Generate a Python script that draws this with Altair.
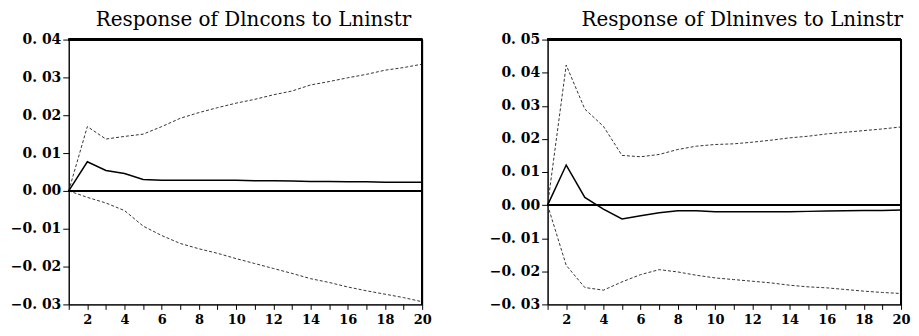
import altair as alt
import pandas as pd

steps = list(range(1, 21))

cons_resp = [0.0, 0.0077, 0.0054, 0.0046, 0.0030, 0.0028, 0.0028, 0.0028, 0.0028, 0.0028,
             0.0027, 0.0027, 0.0026, 0.0025, 0.0025, 0.0024, 0.0024, 0.0023, 0.0023, 0.0023]
cons_upper = [0.0, 0.0170, 0.0137, 0.0144, 0.0150, 0.0170, 0.0192, 0.0207, 0.0220, 0.0232,
              0.0242, 0.0254, 0.0264, 0.0280, 0.0289, 0.0299, 0.0308, 0.0319, 0.0326, 0.0335]
cons_lower = [0.0, -0.0017, -0.0032, -0.0052, -0.0093, -0.0118, -0.0139, -0.0153, -0.0165, -0.0179,
              -0.0192, -0.0205, -0.0218, -0.0232, -0.0242, -0.0254, -0.0264, -0.0273, -0.0282, -0.0293]

inv_resp = [0.0, 0.0121, 0.0023, -0.0012, -0.0042, -0.0032, -0.0023, -0.0017, -0.0017, -0.0020,
            -0.0020, -0.0020, -0.0020, -0.0020, -0.0019, -0.0018, -0.0017, -0.0016, -0.0016, -0.0015]
inv_upper = [0.0, 0.0423, 0.0290, 0.0238, 0.0150, 0.0146, 0.0153, 0.0168, 0.0178, 0.0183,
             0.0185, 0.0190, 0.0196, 0.0203, 0.0208, 0.0215, 0.0220, 0.0225, 0.0230, 0.0236]
inv_lower = [0.0, -0.0182, -0.0249, -0.0257, -0.0232, -0.0210, -0.0195, -0.0202, -0.0212, -0.0220,
             -0.0225, -0.0230, -0.0235, -0.0242, -0.0247, -0.0250, -0.0255, -0.0260, -0.0264, -0.0267]

titles = ["Response of Dlncons to Lninstr", "Response of Dlninves to Lninstr"]

FONT = "DejaVu Serif"
W, H = 355, 266


def panel(resp, upper, lower, title, ymin, ymax, dx):
    df = pd.DataFrame({"step": steps, "resp": resp, "upper": upper, "lower": lower})
    yvals = [round(ymin + 0.01 * i, 2) for i in range(int(round((ymax - ymin) / 0.01)) + 1)]
    xscale = alt.Scale(domain=[1, 20], nice=False, zero=False)
    xaxis = alt.Axis(values=steps, title=None, grid=False,
                     labelExpr="datum.value % 2 == 0 ? datum.value : ''",
                     labelFont=FONT, labelFontSize=13, labelFontWeight="bold",
                     labelColor="black", tickColor="black", domainColor="black",
                     tickSize=5, labelPadding=4, labelFlush=False, labelOverlap=False)
    yscale = alt.Scale(domain=[ymin, ymax], nice=False, zero=False)
    yaxis = alt.Axis(values=yvals, title=None, grid=False,
                     labelExpr="replace(format(datum.value, '.2f'), '.', '. ')",
                     labelFont=FONT, labelFontSize=14, labelFontWeight="bold",
                     labelColor="black", tickColor="black", domainColor="black",
                     tickSize=6, labelPadding=2, minExtent=60, maxExtent=60,
                     labelOverlap=False, labelFlush=False)
    x = alt.X("step:Q", scale=xscale, axis=xaxis)
    base = alt.Chart(df).transform_calculate(
        zero="0", ytop=str(ymax), xend=str(steps[-1]))
    top = base.mark_rule(color="black", strokeWidth=1.5).encode(
        y=alt.Y("ytop:Q", scale=yscale, axis=yaxis))
    rightb = base.mark_rule(color="black", strokeWidth=1.5).encode(
        x=alt.X("xend:Q", scale=xscale, axis=xaxis))
    zero = base.mark_rule(color="black", strokeWidth=1.5).encode(
        y=alt.Y("zero:Q", scale=yscale, axis=yaxis))
    up = base.mark_line(color="#333333", strokeWidth=1, strokeDash=[3, 2]).encode(
        x=x, y=alt.Y("upper:Q", scale=yscale, axis=yaxis))
    lo = base.mark_line(color="#333333", strokeWidth=1, strokeDash=[3, 2]).encode(
        x=x, y=alt.Y("lower:Q", scale=yscale, axis=yaxis))
    rs = base.mark_line(color="black", strokeWidth=1.5).encode(
        x=x, y=alt.Y("resp:Q", scale=yscale, axis=yaxis))
    return alt.layer(up, lo, zero, rs, top, rightb).properties(
        width=W, height=H,
        title=alt.TitleParams(title, font=FONT, fontSize=20, fontWeight="normal",
                              color="black", offset=3, dx=dx, anchor="middle",
                              frame="group"))


left = panel(cons_resp, cons_upper, cons_lower, titles[0], -0.03, 0.04, 8)
right = panel(inv_resp, inv_upper, inv_lower, titles[1], -0.03, 0.05, 18)

chart = alt.hconcat(left, right, spacing=55).properties(
    padding=0, background="white"
).configure_view(stroke="black", strokeWidth=1).configure_axis(labelOverlap=False)

chart.save("out.html", embed_options={"renderer": "svg", "actions": False})
